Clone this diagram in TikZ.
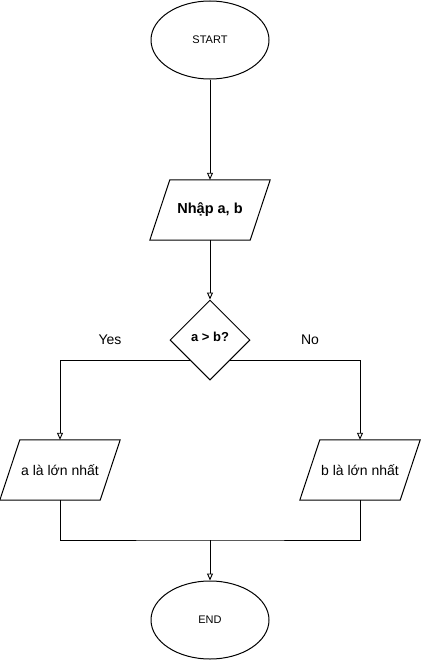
\documentclass[tikz,border=0pt]{standalone}
\usepackage{fontspec}
\setmainfont{Liberation Sans}
\usetikzlibrary{shapes.geometric,arrows.meta}
\begin{document}
\begin{tikzpicture}[x=1pt,y=-1pt,
  every node/.style={font=\fontsize{12}{14}\selectfont},
  term/.style={ellipse,draw,line width=1pt,minimum width=118pt,minimum height=78pt,inner sep=0pt,font=\fontsize{11}{13}\selectfont},
  iobox/.style={rectangle,minimum width=100pt,minimum height=60pt,inner sep=0pt,font=\fontsize{14}{16}\selectfont},
  decbox/.style={diamond,draw,line width=1pt,minimum size=80pt,inner sep=0pt,font=\bfseries\fontsize{13}{15}\selectfont},
  lbl/.style={font=\fontsize{14}{16}\selectfont},
  arr/.style={-{Triangle[open,length=7pt,width=6pt]},line width=0.9pt},
  ln/.style={line width=0.9pt}]
\useasboundingbox (0,0) rectangle (421,661);
\node[term] (start) at (210,40) {START};
\node[iobox,font=\bfseries\fontsize{14.5}{16}\selectfont] (in) at (210,210) {Nhập a, b};
\node[decbox] (dec) at (210,340) {\raisebox{6pt}{a > b?}};
\node[iobox] (ya) at (60,470) {a là lớn nhất};
\node[iobox] (yb) at (360,470) {b là lớn nhất};
\node[term] (end) at (210,620) {END};
\node[lbl] (yes) at (110,340) {Yes};
\node[lbl] (no) at (310,340) {No};
\coordinate (j) at (210,540);
\foreach \n in {in,ya,yb}
  \draw[line width=1pt] ([xshift=10pt]\n.north west) -- ([xshift=10pt]\n.north east) -- ([xshift=-10pt]\n.south east) -- ([xshift=-10pt]\n.south west) -- cycle;
\draw[arr] (start) -- (in.north);
\draw[arr] (in.south) -- (dec.north);
\draw[arr] (dec.south west) -| (ya.north);
\draw[arr] (dec.south east) -| (yb.north);
\draw[ln] (ya.south) |- (j) -| (yb.south);
\draw[arr] (j) -- (end);
\end{tikzpicture}
\end{document}
